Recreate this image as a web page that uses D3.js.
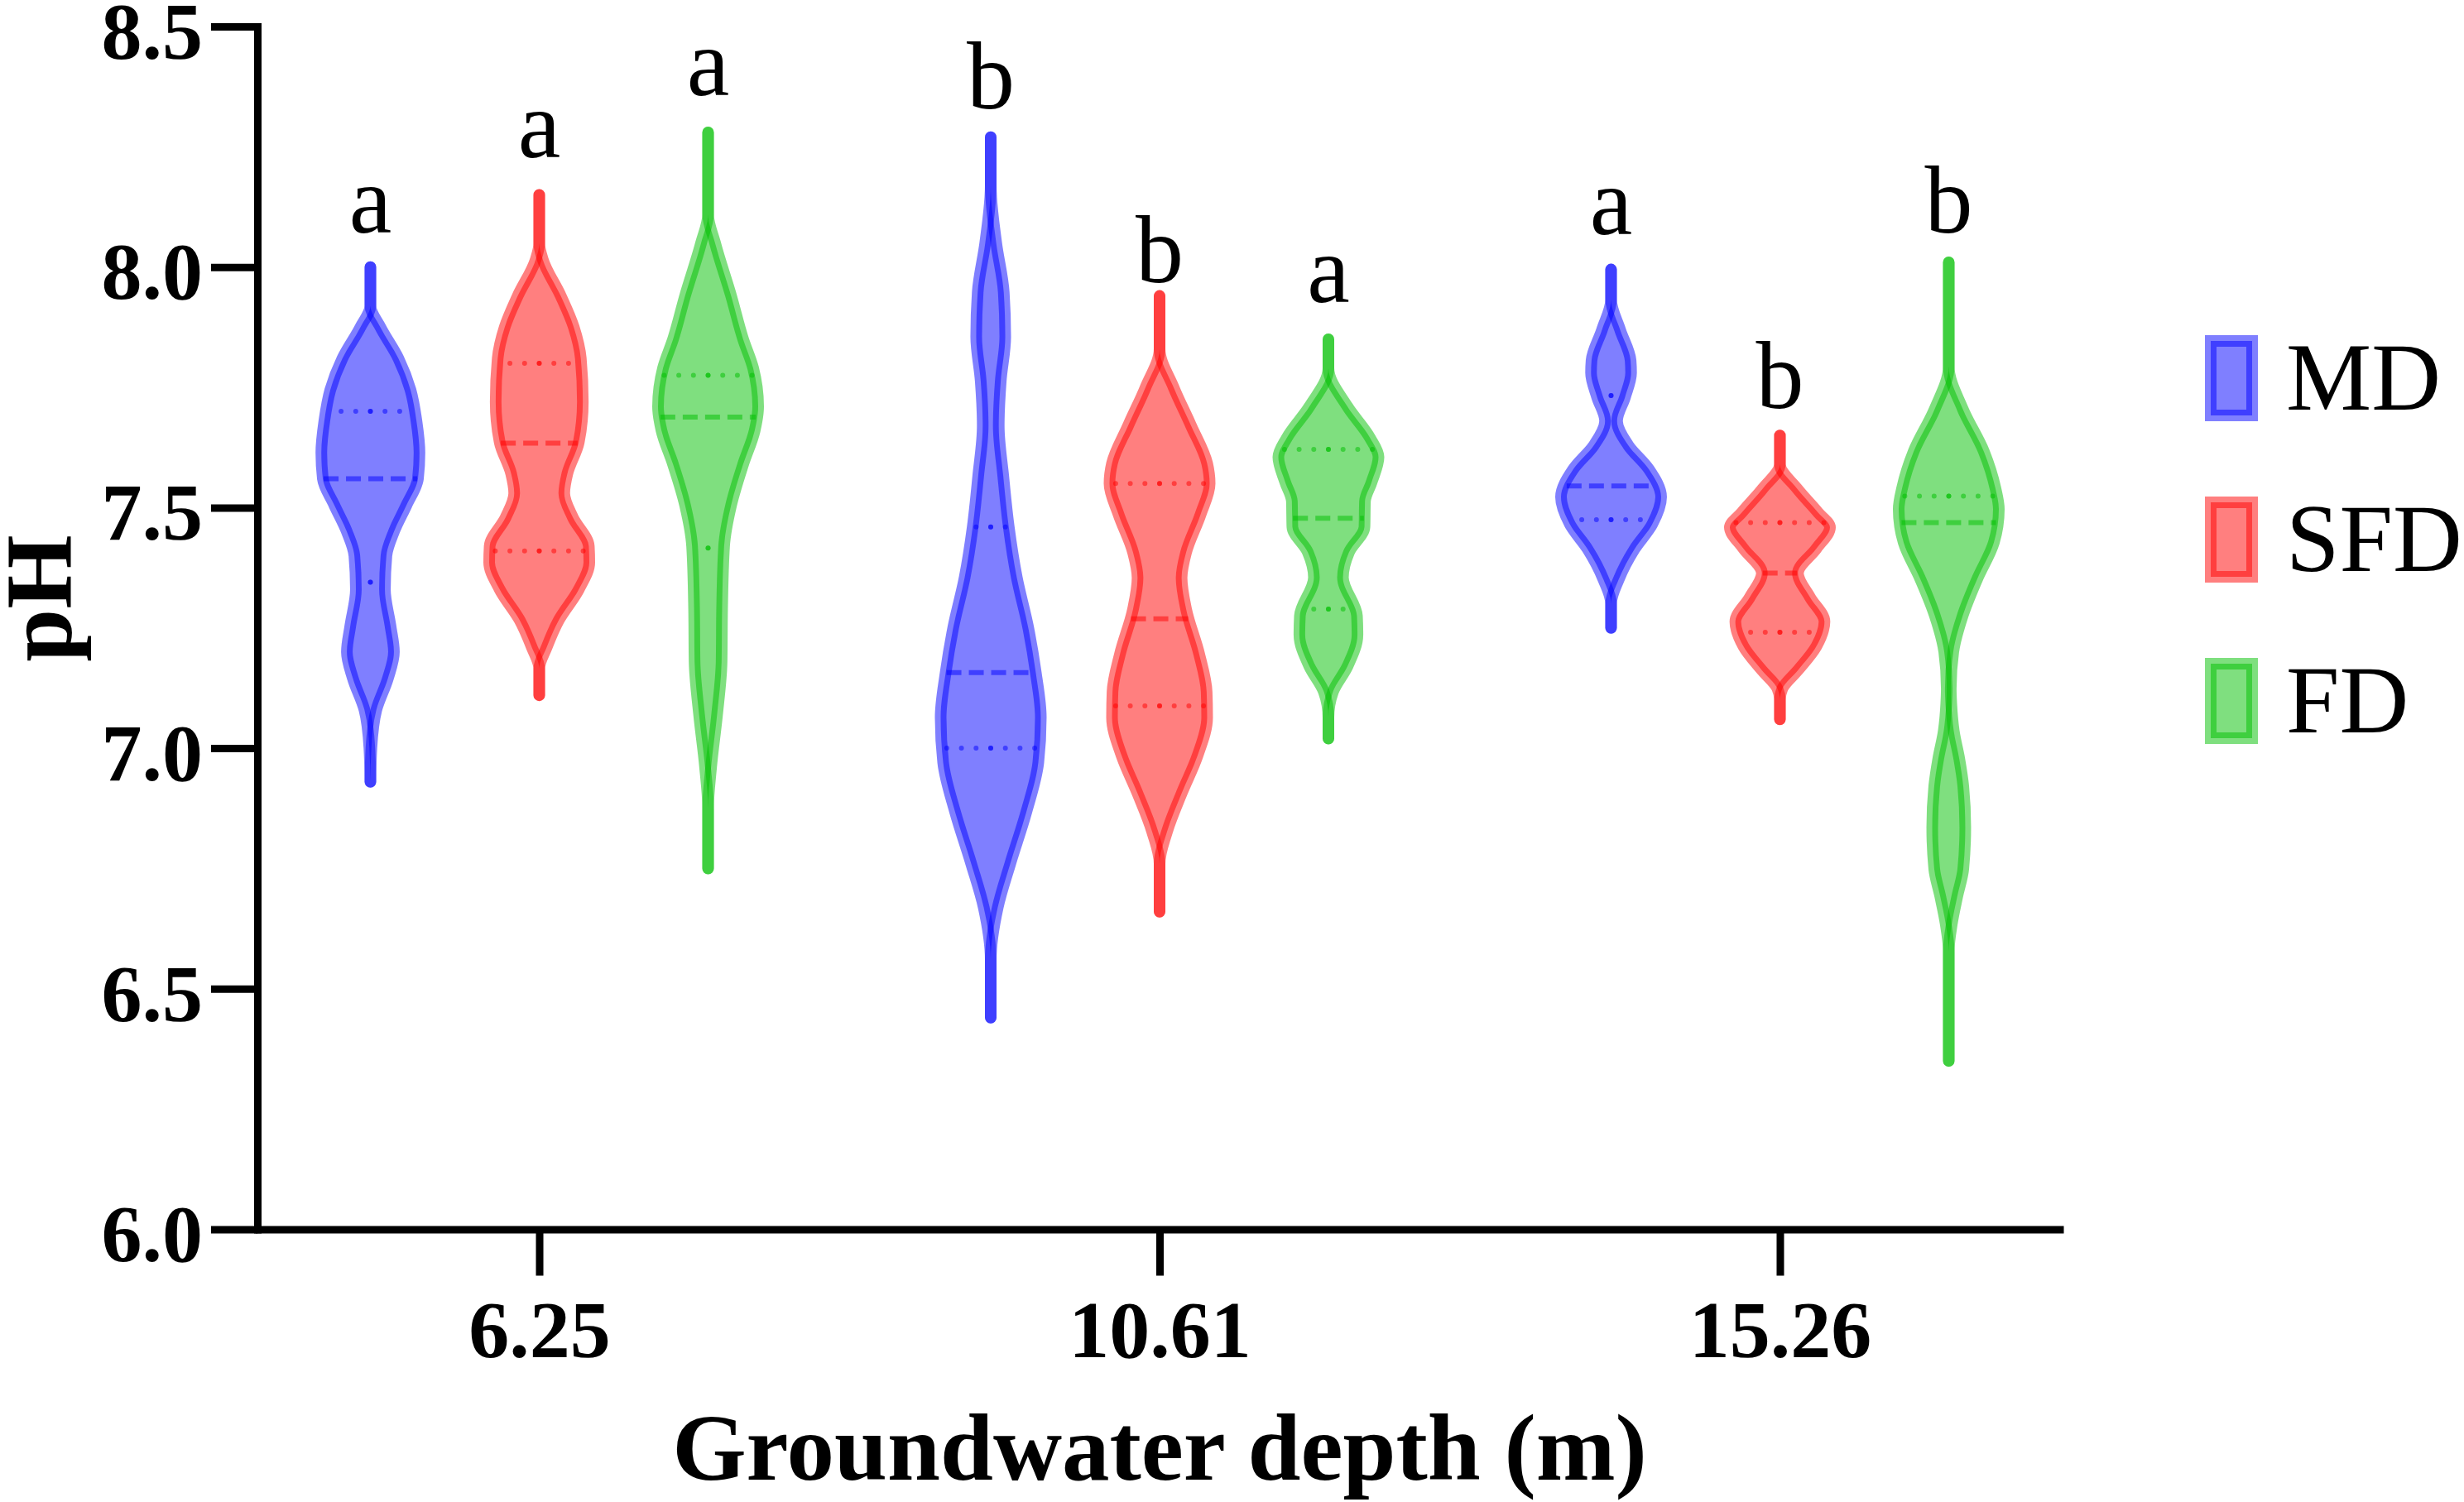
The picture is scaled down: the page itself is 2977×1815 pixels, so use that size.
<!DOCTYPE html>
<html><head><meta charset="utf-8">
<script src="https://cdn.jsdelivr.net/npm/d3@7"></script>
<style>html,body{margin:0;padding:0;background:#fff;} svg{display:block;}</style>
</head><body>
<svg id="chart" width="2977" height="1815"></svg>
<script>
// ---------- DATA ----------
const groups = ["6.25", "10.61", "15.26"];
const seriesNames = ["MD", "SFD", "FD"];
const seriesColors = ["#0000ff", "#ff0000", "#00c000"];
const yTicks = [6.0, 6.5, 7.0, 7.5, 8.0, 8.5];
const xTitle = "Groundwater depth (m)";
const yTitle = "pH";

// order: (6.25: MD, SFD, FD), (10.61: MD, SFD, FD), (15.26: MD, SFD, FD)
const minValues    = [6.93, 7.11, 6.75, 6.44, 6.66, 7.02, 7.25, 7.06, 6.35];
const maxValues    = [8.00, 8.15, 8.28, 8.27, 7.94, 7.85, 7.995, 7.65, 8.01];
const q1Values     = [7.345, 7.41, 7.416, 7.00, 7.088, 7.289, 7.475, 7.241, 7.10];
const medianValues = [7.56, 7.634, 7.688, 7.157, 7.269, 7.478, 7.545, 7.364, 7.469];
const q3Values     = [7.70, 7.80, 7.775, 7.46, 7.55, 7.621, 7.733, 7.469, 7.524];
const letterLabels = ["a", "a", "a", "b", "b", "a", "a", "b", "b"];
const letterValues = [8.072, 8.229, 8.357, 8.33, 7.968, 7.928, 8.068, 7.707, 8.072];

// kernel density outline: [pH, relative half-width]
const profile_625_MD = [[8.00,0],[7.92,0],[7.875,0.20],[7.81,0.56],[7.745,0.80],[7.68,0.92],[7.614,0.98],[7.56,0.95],[7.505,0.72],[7.45,0.47],[7.40,0.32],[7.33,0.29],[7.255,0.40],[7.20,0.47],[7.145,0.35],[7.08,0.12],[7.00,0.02],[6.93,0]];
const profile_625_SFD = [[8.15,0],[8.05,0],[8.016,0.07],[7.94,0.43],[7.875,0.69],[7.81,0.83],[7.72,0.87],[7.636,0.79],[7.57,0.56],[7.53,0.50],[7.48,0.67],[7.42,0.99],[7.386,1.0],[7.33,0.79],[7.266,0.39],[7.21,0.15],[7.165,0],[7.11,0]];
const profile_625_FD = [[8.28,0],[8.11,0],[8.05,0.14],[7.94,0.46],[7.85,0.70],[7.79,0.90],[7.71,1.0],[7.66,0.93],[7.59,0.70],[7.505,0.46],[7.42,0.32],[7.29,0.28],[7.18,0.27],[7.07,0.18],[6.96,0.06],[6.875,0],[6.75,0]];
const profile_1061_MD = [[8.27,0],[8.17,0],[8.05,0.11],[7.948,0.26],[7.855,0.29],[7.763,0.20],[7.67,0.16],[7.566,0.25],[7.46,0.36],[7.355,0.52],[7.25,0.75],[7.157,0.90],[7.064,1.0],[6.97,0.95],[6.867,0.71],[6.76,0.39],[6.669,0.14],[6.56,0],[6.44,0]];
const profile_1061_SFD = [[7.94,0],[7.83,0],[7.75,0.28],[7.67,0.63],[7.592,0.95],[7.55,1.0],[7.486,0.82],[7.407,0.53],[7.354,0.44],[7.289,0.53],[7.196,0.79],[7.117,0.94],[7.064,0.95],[6.985,0.76],[6.906,0.44],[6.827,0.15],[6.76,0],[6.66,0]];
const profile_1061_FD = [[7.85,0],[7.79,0],[7.71,0.38],[7.645,0.83],[7.605,1.0],[7.552,0.86],[7.513,0.73],[7.46,0.72],[7.407,0.41],[7.355,0.29],[7.275,0.57],[7.236,0.58],[7.17,0.38],[7.117,0.09],[7.064,0],[7.02,0]];
const profile_1526_MD = [[7.995,0],[7.933,0],[7.87,0.18],[7.806,0.39],[7.78,0.40],[7.73,0.28],[7.68,0.12],[7.63,0.34],[7.579,0.76],[7.522,1.0],[7.465,0.82],[7.414,0.47],[7.35,0.15],[7.30,0],[7.25,0]];
const profile_1526_SFD = [[7.65,0],[7.59,0],[7.54,0.34],[7.49,0.76],[7.459,1.0],[7.415,0.73],[7.364,0.36],[7.314,0.60],[7.263,0.89],[7.212,0.73],[7.162,0.36],[7.124,0.05],[7.10,0],[7.06,0]];
const profile_1526_FD = [[8.01,0],[7.794,0],[7.705,0.28],[7.617,0.70],[7.541,0.93],[7.497,1.0],[7.427,0.90],[7.352,0.57],[7.276,0.28],[7.20,0.09],[7.124,0.04],[7.093,0.05],[7.036,0.10],[6.978,0.21],[6.921,0.29],[6.835,0.33],[6.749,0.29],[6.692,0.17],[6.634,0.06],[6.577,0],[6.35,0]];
const densityProfiles = [profile_625_MD, profile_625_SFD, profile_625_FD,
                         profile_1061_MD, profile_1061_SFD, profile_1061_FD,
                         profile_1526_MD, profile_1526_SFD, profile_1526_FD];

// ---------- LAYOUT ----------
const svg = d3.select("#chart");
const serif = "'Liberation Serif','Times New Roman',Times,serif";
const plotLeft = 309, plotRight = 2493, plotTop = 32, plotBottom = 1485.5;

const y = d3.scaleLinear().domain([6, 8.5]).range([plotBottom, plotTop]);
const xg = d3.scalePoint().domain(groups).range([plotLeft, plotRight]).padding(0.457);
const xs = d3.scalePoint().domain(seriesNames).range([-204, 204]);
const wScale = d3.scaleLinear().domain([0, 1]).range([0, 60.5]);
const color = d3.scaleOrdinal().domain(seriesNames).range(seriesColors);

function widthAt(prof, v) {
  for (let i = 0; i < prof.length - 1; i++) {
    const a = prof[i], b = prof[i + 1];
    if (v <= a[0] && v >= b[0]) {
      const t = (a[0] - v) / (a[0] - b[0] || 1);
      return a[1] + t * (b[1] - a[1]);
    }
  }
  return 0;
}

const violinLayer = svg.append("g");
groups.forEach((g, gi) => {
  seriesNames.forEach((s, si) => {
    const k = gi * 3 + si;
    const cx = xg(g) + xs(s);
    const c = color(s);
    const prof = densityProfiles[k];
    const vg = violinLayer.append("g");

    const area = d3.area()
      .y(d => y(d[0]))
      .x0(d => cx - wScale(d[1]))
      .x1(d => cx + wScale(d[1]))
      .curve(d3.curveMonotoneY);
    vg.append("path").attr("d", area(prof))
      .attr("fill", c).attr("fill-opacity", 0.5).attr("stroke", "none");

    [-1, 1].forEach(side => {
      const line = d3.line()
        .x(d => cx + side * wScale(d[1]))
        .y(d => y(d[0]))
        .curve(d3.curveMonotoneY);
      vg.append("path").attr("d", line(prof))
        .attr("fill", "none").attr("stroke", c).attr("stroke-opacity", 0.5)
        .attr("stroke-width", 14).attr("stroke-linecap", "round").attr("stroke-linejoin", "round");
    });

    // quartiles (dotted) and median (dashed)
    [q1Values[k], q3Values[k]].forEach(v => {
      const hw = wScale(widthAt(prof, v)) - 2;
      if (hw < 2) return;
      [-1, 1].forEach(side => {
        vg.append("line")
          .attr("x1", cx).attr("x2", cx + side * hw)
          .attr("y1", y(v)).attr("y2", y(v))
          .attr("stroke", c).attr("stroke-opacity", 0.5)
          .attr("stroke-width", 6).attr("stroke-linecap", "round")
          .attr("stroke-dasharray", "0,17.7");
      });
    });
    {
      const v = medianValues[k];
      const hw = wScale(widthAt(prof, v)) - 1;
      if (hw > 2) {
        vg.append("line")
          .attr("x1", cx - hw).attr("x2", cx + hw)
          .attr("y1", y(v)).attr("y2", y(v))
          .attr("stroke", c).attr("stroke-opacity", 0.5)
          .attr("stroke-width", 6).attr("stroke-dasharray", "18,9");
      }
    }

    // significance letter
    svg.append("text")
      .attr("x", cx).attr("y", y(letterValues[k]))
      .attr("text-anchor", "middle")
      .attr("font-family", serif).attr("font-size", 116)
      .attr("fill", "#000")
      .text(letterLabels[k]);
  });
});

// ---------- AXES ----------
const yAxis = d3.axisLeft(y).tickValues(yTicks).tickFormat(d3.format(".1f"))
  .tickSize(56).tickSizeOuter(0).tickPadding(10);
const yAxisG = svg.append("g").attr("transform", `translate(${plotLeft + 2},0)`).call(yAxis);
yAxisG.select(".domain").attr("stroke", "#000").attr("stroke-width", 9).attr("stroke-linecap", "square");
yAxisG.selectAll(".tick line").attr("stroke", "#000").attr("stroke-width", 9);
yAxisG.selectAll(".tick text").attr("font-family", serif).attr("font-weight", "bold")
  .attr("font-size", 98).attr("fill", "#000").attr("dy", "0.39em");

const xAxis = d3.axisBottom(xg).tickSize(56).tickSizeOuter(0).tickPadding(29);
const xAxisG = svg.append("g").attr("transform", `translate(0,${plotBottom})`).call(xAxis);
xAxisG.select(".domain").attr("stroke", "#000").attr("stroke-width", 9).attr("stroke-linecap", "butt");
xAxisG.selectAll(".tick line").attr("stroke", "#000").attr("stroke-width", 9);
xAxisG.selectAll(".tick text").attr("font-family", serif).attr("font-weight", "bold")
  .attr("font-size", 98).attr("fill", "#000");

svg.append("text")
  .attr("x", (plotLeft + plotRight) / 2).attr("y", 1788)
  .attr("text-anchor", "middle").attr("font-family", serif)
  .attr("font-weight", "bold").attr("font-size", 115).attr("fill", "#000")
  .text(xTitle);

svg.append("text")
  .attr("transform", "translate(86,723) rotate(-90)")
  .attr("text-anchor", "middle").attr("font-family", serif)
  .attr("font-weight", "bold").attr("font-size", 115).attr("fill", "#000")
  .text(yTitle);

// ---------- LEGEND ----------
const legendY = d3.scalePoint().domain(seriesNames).range([457, 847]);
const legend = svg.append("g");
seriesNames.forEach(s => {
  const cy = legendY(s);
  legend.append("rect")
    .attr("x", 2671).attr("y", cy - 45).attr("width", 50).attr("height", 90)
    .attr("fill", color(s)).attr("fill-opacity", 0.5)
    .attr("stroke", color(s)).attr("stroke-opacity", 0.5).attr("stroke-width", 14);
  legend.append("text")
    .attr("x", 2762).attr("y", cy + 37.5)
    .attr("font-family", serif).attr("font-size", 116).attr("fill", "#000")
    .text(s);
});
</script>
</body></html>
